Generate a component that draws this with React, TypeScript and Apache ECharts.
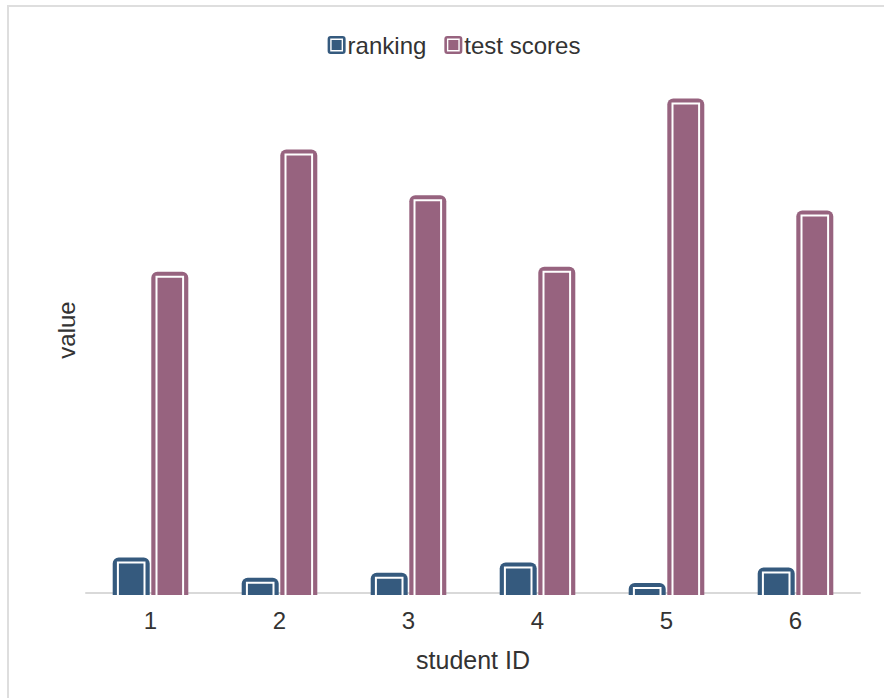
import React, { useEffect, useRef } from "react";
import * as echarts from "echarts";

const categories = ["1", "2", "3", "4", "5", "6"];
const ranking = [6, 2, 3, 5, 1, 4];
const testScores = [62, 86, 77, 63, 96, 74];
const seriesNames = ["ranking", "test scores"];
const colors = ["#355a7e", "#97637f"];

const FONT = 'Arial, "Liberation Sans", sans-serif';
const ICON =
  "path://M3 0H15Q18 0 18 3V15Q18 18 15 18H3Q0 18 0 15V3Q0 0 3 0Z" +
  "M2.6 2.6V15.4H15.4V2.6Z" +
  "M4 4H14V14H4Z";

const OFFSETS = [-19.3, 19.3];

export default function App() {
  const ref = useRef<HTMLDivElement>(null);
  useEffect(() => {
    if (!ref.current) return;
    const chart = echarts.init(ref.current, undefined, { renderer: "svg" });
    const values = [ranking, testScores];
    const series = values.map((d, si) => ({
      name: seriesNames[si],
      type: "custom",
      data: d.map((v, i) => [i, v]),
      encode: { x: 0, y: 1 },
      itemStyle: { color: colors[si] },
      renderItem: (params: any, api: any) => {
        const idx = api.value(0);
        const v = api.value(1);
        const base = api.coord([idx, 0]);
        const top = api.coord([idx, v]);
        const cx = base[0] + OFFSETS[si];
        const c = colors[si];
        return {
          type: "group",
          children: [
            {
              type: "rect",
              shape: {
                x: cx - 18.5,
                y: top[1] - 5,
                width: 37,
                height: base[1] + 2 - (top[1] - 5),
                r: [6, 6, 0, 0],
              },
              style: { fill: c },
            },
            {
              type: "rect",
              shape: {
                x: cx - 13.3,
                y: top[1],
                width: 26.6,
                height: Math.max(0, base[1] + 3 - top[1]),
              },
              style: { fill: c, stroke: "#ffffff", lineWidth: 2 },
            },
          ],
        };
      },
    }));
    chart.setOption({
      animation: false,
      textStyle: { fontFamily: FONT },
      legend: {
        top: 21,
        left: "center",
        itemWidth: 18,
        itemHeight: 18,
        itemGap: 18,
        data: seriesNames.map((n) => ({ name: n, icon: ICON })),
        itemStyle: { borderWidth: 0 },
        textStyle: { fontSize: 24, color: "#333", fontFamily: FONT, padding: [0, 0, 0, -3] },
      },
      grid: { left: 77, right: 39, top: 76, bottom: 114 },
      xAxis: {
        type: "category",
        data: categories,
        name: "student ID",
        nameLocation: "middle",
        nameGap: 54,
        nameTextStyle: { fontSize: 25, color: "#333", fontFamily: FONT },
        axisLine: { show: true, lineStyle: { color: "#d9d9d9", width: 2 } },
        axisTick: { show: false },
        axisLabel: { fontSize: 24, color: "#333", margin: 15, fontFamily: FONT },
        splitLine: { show: false },
      },
      yAxis: {
        type: "value",
        min: 0,
        max: 100,
        name: "value",
        nameLocation: "middle",
        nameGap: 8,
        nameTextStyle: { fontSize: 24, color: "#333", fontFamily: FONT, padding: [0, 0, 0, 16] },
        axisLine: { show: false },
        axisTick: { show: false },
        axisLabel: { show: false },
        splitLine: { show: false },
      },
      series,
    });
    return () => chart.dispose();
  }, []);

  return (
    <div
      style={{
        position: "fixed",
        inset: 0,
        overflow: "hidden",
        background: "#fff",
      }}
    >
      <div
        style={{
          position: "absolute",
          left: 7,
          top: 5,
          width: 900,
          height: 720,
          border: "2px solid #dedede",
          boxSizing: "border-box",
        }}
      >
        <div ref={ref} style={{ position: "absolute", left: 0, top: 0, width: 890, height: 700 }} />
      </div>
    </div>
  );
}
